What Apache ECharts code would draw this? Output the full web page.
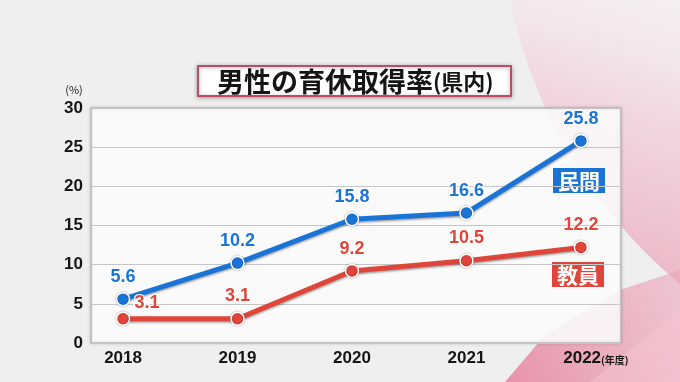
<!DOCTYPE html>
<html><head><meta charset="utf-8">
<script src="https://cdn.jsdelivr.net/npm/echarts@6/dist/echarts.min.js"></script>
<style>html,body{margin:0;padding:0;background:#efefef}#c{width:680px;height:382px}</style>
</head><body><div id="c"></div>
<script>
const years = [2018, 2019, 2020, 2021, 2022];
const minkan = [5.6, 10.2, 15.8, 16.6, 25.8];   // 民間
const kyouin = [3.1, 3.1, 9.2, 10.5, 12.2];     // 教員
const yMin = 0, yMax = 30, yStep = 5;
const titleMain = '男性の育休取得率', titleSub = '(県内)';
const unitY = '(%)', unitX = '(年度)';

const BLUE = '#1a74d8', RED = '#e0453a';
const NUM = 'Liberation Sans, Arial, sans-serif';
const JP = 'Noto Sans CJK JP, sans-serif';

const chart = echarts.init(document.getElementById('c'), null, {renderer: 'canvas'});

function lineSeries(name, vals, color, labelOffsets) {
  return {
    name, type: 'line', z: 5,
    data: years.map((y, i) => ({
      value: [y, vals[i]],
      label: labelOffsets && labelOffsets[i] ? {offset: labelOffsets[i]} : undefined
    })),
    symbol: 'circle', symbolSize: 13,
    lineStyle: {color, width: 5, shadowColor: 'rgba(0,0,0,0.35)', shadowBlur: 2, shadowOffsetY: 1.5},
    itemStyle: {color, borderColor: '#fff', borderWidth: 1.5, shadowColor: 'rgba(0,0,0,0.3)', shadowBlur: 2},
    label: {
      show: true, position: 'top', distance: 6,
      color, fontFamily: NUM, fontWeight: 'bold', fontSize: 18,
      textBorderColor: '#fff', textBorderWidth: 2,
      formatter: p => p.value[1].toFixed(1)
    },
    emphasis: {disabled: true}, animation: false
  };
}

function tag(text, cx, cy, color) {
  return {
    type: 'group', x: cx, y: cy, z: 10,
    children: [
      {type: 'rect', shape: {x: -26, y: -12, width: 52, height: 25}, style: {fill: color}},
      {type: 'text', style: {text, x: 0, y: 1, align: 'center', verticalAlign: 'middle',
        fill: '#fff', font: 'bold 21px ' + JP}}
    ]
  };
}

chart.setOption({
  backgroundColor: '#efefef',
  animation: false,
  title: {
    text: '{a|' + titleMain + '}{b|' + titleSub + '}',
    left: 198, top: 63,
    padding: [2, 18, 1, 19],
    backgroundColor: '#fff', borderColor: '#c24868', borderWidth: 2,
    shadowColor: 'rgba(0,0,0,0.3)', shadowBlur: 4, shadowOffsetY: 1,
    textStyle: {rich: {
      a: {fontFamily: JP, fontWeight: 'bold', fontSize: 27, color: '#151515', lineHeight: 33},
      b: {fontFamily: JP, fontWeight: 'bold', fontSize: 22, color: '#151515', lineHeight: 33}
    }}
  },
  graphic: [
    {type: 'circle', z: -10, silent: true, shape: {cx: 1000, cy: -100, r: 500},
      style: {fill: new echarts.graphic.LinearGradient(680, 0, 560, 382, [
        {offset: 0, color: 'rgba(250,238,242,0.35)'},
        {offset: 0.3, color: 'rgba(242,205,217,0.7)'},
        {offset: 1, color: 'rgba(230,145,172,0.95)'}], true)}},
    {type: 'polygon', z: -9, silent: true,
      shape: {points: [[505, 382], [545, 335], [620, 290], [680, 270], [680, 382]]},
      style: {fill: new echarts.graphic.LinearGradient(505, 382, 680, 300, [
        {offset: 0, color: 'rgba(230,130,158,0.85)'},
        {offset: 1, color: 'rgba(236,165,188,0.6)'}], true)}},
    {type: 'polygon', z: -8, silent: true,
      shape: {points: [[590, 382], [680, 310], [680, 382]]},
      style: {fill: 'rgba(245,195,212,0.5)'}},
    {type: 'text', z: 10, style: {text: unitY, x: 74, y: 90, align: 'center', verticalAlign: 'middle',
      fill: '#222', font: '11px ' + JP}},
    tag('民間', 579, 180, BLUE),
    tag('教員', 578, 274, RED)
  ],
  grid: {
    left: 91, right: 59, top: 108, bottom: 39, show: true,
    backgroundColor: 'rgba(255,255,255,0.88)', borderColor: '#b8b8b8', borderWidth: 1.5,
    shadowColor: 'rgba(0,0,0,0.15)', shadowBlur: 3
  },
  xAxis: {
    type: 'value', min: 2017.72, max: 2022.35,
    axisLine: {show: false}, axisTick: {show: false}, splitLine: {show: false},
    axisLabel: {
      customValues: years, margin: 7,
      formatter: v => v === years[years.length - 1] ? '{p|}{a|' + v + '}{b|' + unitX + '}' : '{a|' + v + '}',
      rich: {
        p: {width: 30},
        a: {fontFamily: NUM, fontWeight: 'bold', fontSize: 17, color: '#151515'},
        b: {fontFamily: JP, fontWeight: 'bold', fontSize: 10, color: '#151515', padding: [3, 0, 0, 0]}
      }
    }
  },
  yAxis: {
    type: 'value', min: yMin, max: yMax, interval: yStep,
    axisLine: {show: false}, axisTick: {show: false},
    splitLine: {lineStyle: {color: '#c6c6c6', width: 1.2}},
    axisLabel: {margin: 8, fontFamily: NUM, fontWeight: 'bold', fontSize: 17, color: '#151515'}
  },
  series: [
    lineSeries('民間', minkan, BLUE),
    lineSeries('教員', kyouin, RED, [[24, 7], null, null, null, null])
  ]
});
</script>
</body></html>
